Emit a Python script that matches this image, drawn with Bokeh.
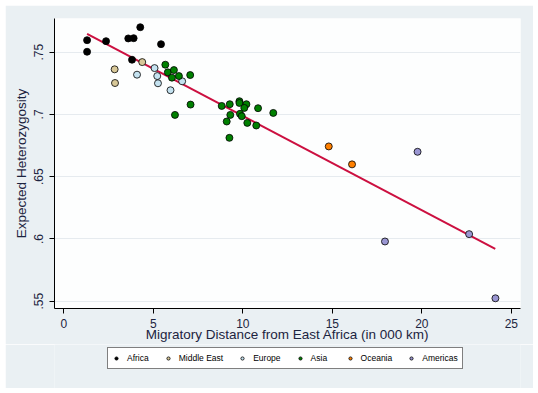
from bokeh.plotting import figure
from bokeh.models import FixedTicker, Legend, LegendItem, Spacer
from bokeh.layouts import column, row
from bokeh.embed import file_html
from bokeh.resources import INLINE

# ---- data ----
africa_x = [1.30, 1.30, 2.36, 3.60, 3.90, 4.27, 5.43, 3.81]
africa_y = [0.7596, 0.7503, 0.7588, 0.7610, 0.7612, 0.7700, 0.7564, 0.7439]

mideast_x = [2.84, 2.86, 4.38]
mideast_y = [0.7362, 0.7252, 0.7420]

europe_x = [4.09, 5.07, 5.22, 5.26, 5.96, 6.61]
europe_y = [0.7319, 0.7372, 0.7308, 0.7250, 0.7194, 0.7266]

asia_x = [5.67, 5.81, 6.15, 6.43, 6.04, 7.06, 7.08, 6.21, 8.82, 9.27, 9.81, 9.81,
          10.20, 10.08, 10.85, 11.70, 9.30, 9.10, 9.84, 9.94, 10.25, 10.75, 9.25]
asia_y = [0.7399, 0.7338, 0.7356, 0.7308, 0.7295, 0.7316, 0.7079, 0.6996, 0.7068,
          0.7082, 0.7106, 0.7092, 0.7082, 0.7052, 0.7050, 0.7012, 0.6996, 0.6943,
          0.7005, 0.6986, 0.6932, 0.6911, 0.6812]

oceania_x = [14.80, 16.10]
oceania_y = [0.6743, 0.6599]

americas_x = [19.76, 17.94, 22.64, 24.11]
americas_y = [0.6700, 0.5980, 0.6039, 0.5524]

fit_x = [1.30, 24.10]
fit_y = [0.7647, 0.5920]

x_ticks = [0, 5, 10, 15, 20, 25]
x_tick_labels = ["0", "5", "10", "15", "20", "25"]
y_ticks = [0.55, 0.60, 0.65, 0.70, 0.75]
y_tick_labels = [".55", ".6", ".65", ".7", ".75"]

groups = [
    ("Africa", africa_x, africa_y, "#000000"),
    ("Middle East", mideast_x, mideast_y, "#d8c898"),
    ("Europe", europe_x, europe_y, "#c4e2f0"),
    ("Asia", asia_x, asia_y, "#008000"),
    ("Oceania", oceania_x, oceania_y, "#ff8000"),
    ("Americas", americas_x, americas_y, "#9a96d2"),
]

FONT = "Liberation Sans"
TXT = "#1c2440"
BG = "#eaf0f3"

# ---- main chart ----
p = figure(width=528, height=339, x_range=(-0.52, 25.51), y_range=(0.5442, 0.7770),
           output_backend="svg", toolbar_location=None,
           min_border_left=49, min_border_right=13, min_border_top=13, min_border_bottom=35,
           background_fill_color="#fdfefe", border_fill_color=BG)
p.outline_line_color = None

p.line(fit_x, fit_y, line_color="#cc1040", line_width=2)

for name, xs, ys, col in groups:
    p.scatter(xs, ys, size=7, fill_color=col, line_color="#000000", line_width=0.8)

p.xaxis.ticker = FixedTicker(ticks=x_ticks)
p.xaxis.major_label_overrides = {t: l for t, l in zip(x_ticks, x_tick_labels)}
p.yaxis.ticker = FixedTicker(ticks=y_ticks)
p.yaxis.major_label_overrides = {t: l for t, l in zip(y_ticks, y_tick_labels)}
p.yaxis.major_label_orientation = "vertical"

for ax in (p.xaxis, p.yaxis):
    ax.axis_line_color = "#000000"
    ax.major_tick_line_color = "#000000"
    ax.major_tick_out = 5
    ax.major_tick_in = 0
    ax.minor_tick_line_color = None
    ax.major_label_text_font = FONT
    ax.major_label_text_font_size = "12px"
    ax.major_label_text_color = TXT
    ax.axis_label_text_font = FONT
    ax.axis_label_text_font_size = "13.5px"
    ax.axis_label_text_font_style = "normal"
    ax.axis_label_text_color = TXT

p.xaxis.axis_label = "Migratory Distance from East Africa (in 000 km)"
p.yaxis.axis_label = "Expected Heterozygosity"
p.xaxis.major_label_standoff = 5
p.xaxis.axis_label_standoff = -4
p.yaxis.major_label_standoff = 6
p.yaxis.axis_label_standoff = 3

p.xgrid.grid_line_color = None
p.ygrid.grid_line_color = "#e6ebef"
p.ygrid.grid_line_width = 1

# ---- legend strip (its own small figure, frames are aligned with the chart) ----
q = figure(width=528, height=44, x_range=(0, 1), y_range=(0, 1),
           output_backend="svg", toolbar_location=None,
           x_axis_location=None, y_axis_location=None,
           min_border=0, min_border_left=0, min_border_right=0,
           min_border_top=0, min_border_bottom=0,
           background_fill_color=BG, border_fill_color=BG)
q.outline_line_color = None
q.xgrid.grid_line_color = None
q.ygrid.grid_line_color = None

items = []
for name, xs, ys, col in groups:
    # off-screen stand-in renderer, only used for the legend swatch
    r = q.scatter([-10], [-10], size=7, fill_color=col, line_color="#000000", line_width=0.8)
    items.append(LegendItem(label=name, renderers=[r]))

leg = Legend(items=items, orientation="horizontal", location=(53, 19))
leg.border_line_color = "#000000"
leg.border_line_width = 1
leg.background_fill_color = "#ffffff"
leg.background_fill_alpha = 1
leg.label_text_font = FONT
leg.label_text_font_size = "8.5px"
leg.label_text_color = "#000000"
leg.glyph_width = 8
leg.glyph_height = 12
leg.label_height = 12
leg.label_standoff = 7
leg.spacing = 15
leg.padding = 4
leg.margin = 0
q.add_layout(leg, "center")

layout = column(Spacer(width=538, height=5),
                row(Spacer(width=5, height=383), column(p, q)))

open("out.html", "w").write(file_html(layout, INLINE))
